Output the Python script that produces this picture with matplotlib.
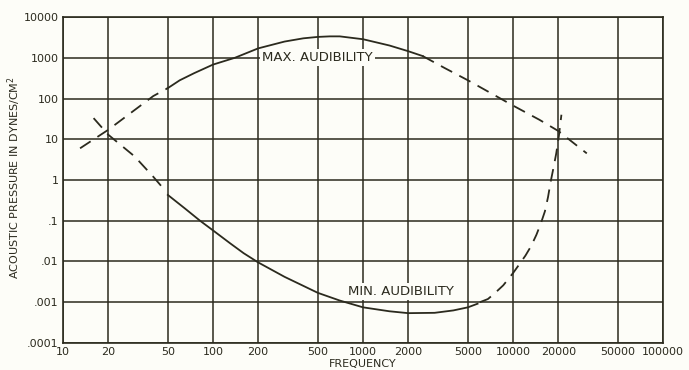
import matplotlib
matplotlib.use("Agg")
import matplotlib.pyplot as plt

# frequency grid and tick labels
x_ticks = [10, 20, 50, 100, 200, 500, 1000, 2000, 5000, 10000, 20000, 50000, 100000]
x_labels = ["10", "20", "50", "100", "200", "500", "1000", "2000", "5000",
            "10000", "20000", "50000", "100000"]
y_ticks = [1e-4, 1e-3, 1e-2, 1e-1, 1, 10, 100, 1000, 10000]
y_labels = [".0001", ".001", ".01", ".1", "1", "10", "100", "1000", "10000"]

# threshold of feeling (max audibility) - extrapolated ends are dashed
max_lo_f = [13, 20, 30, 40, 50]
max_lo_p = [6, 17, 52, 115, 180]
max_f = [50, 60, 75, 100, 140, 200, 300, 400, 500, 600, 700, 1000, 1500, 2000, 2500]
max_p = [180, 280, 420, 680, 1000, 1700, 2500, 3000, 3250, 3350, 3350, 2850, 2000, 1450, 1100]
max_hi_f = [2500, 3500, 5000, 7000, 10000, 15000, 20000, 31000]
max_hi_p = [1100, 560, 280, 140, 67, 30, 16, 4.5]

# threshold of hearing (min audibility)
min_lo_f = [16, 20, 30, 40, 48]
min_lo_p = [33, 13, 3.8, 1.2, 0.55]
min_f = [50, 65, 82, 100, 130, 160, 200, 300, 500, 700, 1000, 1500, 2000, 3000,
         4000, 5000, 5800]
min_p = [0.43, 0.2, 0.1, 0.058, 0.028, 0.016, 0.0095, 0.0042, 0.0017, 0.0011,
         0.00075, 0.0006, 0.00054, 0.00055, 0.00063, 0.00075, 0.00092]
min_hi_f = [6000, 6800, 7600, 8600, 10000, 11000, 12100, 13200, 14300, 15300,
            16300, 17100, 17800, 18600, 19400, 20200, 21000]
min_hi_p = [0.001, 0.0012, 0.0017, 0.0026, 0.0052, 0.0085, 0.014, 0.024, 0.045,
            0.085, 0.17, 0.38, 0.9, 2.0, 4.5, 12, 40]

ink = "#2b2a1e"
paper = "#fdfdf8"

fig = plt.figure(figsize=(6.89, 3.70), dpi=100, facecolor=paper)
ax = fig.add_axes([0.0914, 0.073, 0.871, 0.881], facecolor=paper)
ax.set_xscale("log")
ax.set_yscale("log")
ax.set_xlim(10, 100000)
ax.set_ylim(1e-4, 10000)

ax.set_xticks(x_ticks)
ax.set_xticklabels(x_labels)
ax.set_yticks(y_ticks)
ax.set_yticklabels(y_labels)
ax.minorticks_off()
ax.tick_params(length=0, pad=3, labelsize=8, colors=ink)
ax.grid(True, which="major", color=ink, lw=1.1)
for s in ax.spines.values():
    s.set_color(ink)
    s.set_linewidth(1.2)

dash = (0, (7, 4.5))
ax.plot(max_lo_f, max_lo_p, color=ink, lw=1.3, linestyle=dash, zorder=3)
ax.plot(max_f, max_p, color=ink, lw=1.3, zorder=3)
ax.plot(max_hi_f, max_hi_p, color=ink, lw=1.3, linestyle=dash, zorder=3)
ax.plot(min_lo_f, min_lo_p, color=ink, lw=1.3, linestyle=dash, zorder=3)
ax.plot(min_f, min_p, color=ink, lw=1.3, zorder=3)
ax.plot(min_hi_f, min_hi_p, color=ink, lw=1.3, linestyle=dash, zorder=3)

box = dict(facecolor=paper, edgecolor="none", pad=1.5)
ax.text(212, 1000, "MAX. AUDIBILITY", fontsize=9.5, color=ink, ha="left",
        va="center", bbox=box, zorder=4)
ax.text(800, 0.0018, "MIN. AUDIBILITY", fontsize=9.5, color=ink, ha="left",
        va="center", bbox=box, zorder=4)

ax.set_xlabel("FREQUENCY", fontsize=8, color=ink, labelpad=1)
fig.text(0.02, 0.52, "ACOUSTIC PRESSURE IN DYNES/CM$^2$", rotation=90,
         fontsize=8, color=ink, ha="center", va="center")

fig.savefig("out.png", dpi=100, facecolor=paper)
